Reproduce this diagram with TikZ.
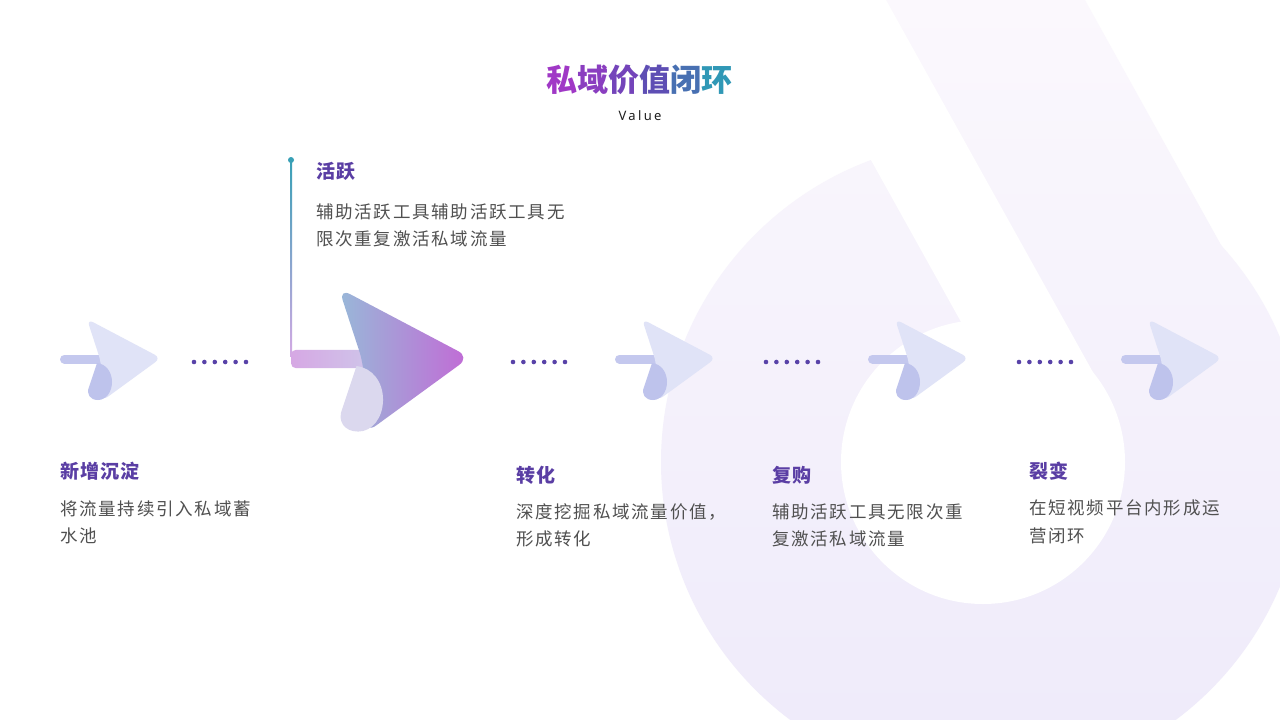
\documentclass[tikz,border=0pt]{standalone}
\usepackage{fontspec}
\newfontfamily\cjk{Noto Sans CJK SC}
\newfontfamily\cjkbody{Noto Sans CJK SC}[LetterSpace=10]
\newfontfamily\cjkhead{Noto Sans CJK SC}[LetterSpace=6]
\newfontfamily\latinsp{Noto Sans}[LetterSpace=18]
\definecolor{headc}{RGB}{90,62,164}
\definecolor{bodyc}{RGB}{80,80,80}
\definecolor{dotc}{RGB}{88,66,168}
\definecolor{barc}{RGB}{196,200,238}
\definecolor{headl}{RGB}{224,227,247}
\definecolor{legc}{RGB}{190,195,236}
\definecolor{bgtop}{RGB}{251,248,253}
\definecolor{bgbot}{RGB}{239,235,250}
\definecolor{bbarl}{RGB}{214,168,228}
\definecolor{bbarr}{RGB}{206,200,234}
\definecolor{bheadl}{RGB}{152,184,216}
\definecolor{bheadr}{RGB}{194,106,214}
\definecolor{bleg}{RGB}{219,216,238}
\definecolor{linetop}{RGB}{56,160,182}
\definecolor{linebot}{RGB}{212,170,228}
\definecolor{valc}{RGB}{30,30,30}
\definecolor{t1}{RGB}{160,56,198}
\definecolor{t2}{RGB}{138,62,192}
\definecolor{t3}{RGB}{116,68,186}
\definecolor{t4}{RGB}{94,78,180}
\definecolor{t5}{RGB}{72,112,178}
\definecolor{t6}{RGB}{48,152,182}
\tikzset{
  headtxt/.style={font=\cjkhead\bfseries\fontsize{19pt}{23pt}\selectfont, text=headc, anchor=west, inner sep=0pt},
  bodytxt/.style={font=\cjkbody\fontsize{17.5pt}{21pt}\selectfont, text=bodyc, anchor=west, inner sep=0pt},
  dotdot/.style={fill=dotc},
  smallarrow/.pic={
    \draw[barc, line width=9pt, line cap=round] (4.5,0) -- (48,0);
    \fill[headl, rounded corners=7pt] (27,-40) -- (101,-1) -- (42,42) -- (41,3) -- cycle;
    \fill[legc] (37,4) .. controls (46,5) and (52,13) .. (52,23) .. controls (52,33) and (46,41) .. (38,41) .. controls (30,41) and (26,35) .. (29,28) -- cycle;
  }
}
\begin{document}
\begin{tikzpicture}[x=1pt,y=-1pt]
\useasboundingbox (0,0) rectangle (1280,720);
\fill[white] (0,0) rectangle (1280,720);
% background shape
\begin{scope}
  \clip (0,0) rectangle (1280,720);
  \begin{scope}
    \clip (983,462) circle (322pt);
    \shade[top color=bgtop, bottom color=bgbot] (0,0) rectangle (1280,720);
  \end{scope}
  \begin{scope}
    \clip (880.4,-10) -- (1079.4,-10) -- (1346,470) -- (1147,470) -- cycle;
    \shade[top color=bgtop, bottom color=bgbot] (0,0) rectangle (1280,720);
  \end{scope}
  \fill[white] (983,462) circle (142pt);
  \fill[white] (776.4,-10) -- (880.4,-10) -- (1111.2,405) -- (965.5,330) -- cycle;
\end{scope}
% title
\node[font=\cjk\bfseries\fontsize{31pt}{36pt}\selectfont, inner sep=0pt] (title) at (639,80)
  {\textcolor{t1}{私}\textcolor{t2}{域}\textcolor{t3}{价}\textcolor{t4}{值}\textcolor{t5}{闭}\textcolor{t6}{环}};
\node[font=\latinsp\fontsize{13pt}{15pt}\selectfont, text=valc, inner sep=0pt] (sub) at (640,116) {Value};
% small arrows
\pic (a1) at (60,359) {smallarrow};
\pic (a3) at (615,359) {smallarrow};
\pic (a4) at (868,359) {smallarrow};
\pic (a5) at (1121,359) {smallarrow};
% dots
\foreach \s in {194,513,766,1019} {
  \foreach \i in {0,...,5} { \fill[dotdot] (\s+\i*10.4,362) circle (2.3pt); }
}
% big arrow with guide line
\shade[top color=linetop, bottom color=linebot] (290,160) rectangle (292,356);
\fill[linetop] (291,160) circle (3pt);
\coordinate (guidetop) at (291,160);
\begin{scope}[shift={(291,359)}, scale=1.77]
  \shade[left color=bbarl, right color=bbarr, rounded corners=5pt] (0,-5.2) rectangle (50,5.2);
  \shade[left color=bheadl, right color=bheadr, rounded corners=13pt] (27,-40) -- (101,-1) -- (42,42) -- (41,3) -- cycle;
  \fill[bleg] (37,4) .. controls (46,5) and (52,13) .. (52,23) .. controls (52,33) and (46,41) .. (38,41) .. controls (30,41) and (26,35) .. (29,28) -- cycle;
\end{scope}
% texts
\node[headtxt] (h0) at (316,171) {活跃};
\node[bodytxt] (b0a) at (316,212) {辅助活跃工具辅助活跃工具无};
\node[bodytxt] (b0b) at (316,239) {限次重复激活私域流量};
\node[headtxt] (h1) at (60,471) {新增沉淀};
\node[bodytxt] (b1a) at (60,509) {将流量持续引入私域蓄};
\node[bodytxt] (b1b) at (60,536) {水池};
\node[headtxt] (h2) at (516,475) {转化};
\node[bodytxt] (b2a) at (516,512) {深度挖掘私域流量价值，};
\node[bodytxt] (b2b) at (516,539) {形成转化};
\node[headtxt] (h3) at (772,475) {复购};
\node[bodytxt] (b3a) at (772,512) {辅助活跃工具无限次重};
\node[bodytxt] (b3b) at (772,539) {复激活私域流量};
\node[headtxt] (h4) at (1029,471) {裂变};
\node[bodytxt] (b4a) at (1029,508) {在短视频平台内形成运};
\node[bodytxt] (b4b) at (1029,536) {营闭环};
\end{tikzpicture}
\end{document}
